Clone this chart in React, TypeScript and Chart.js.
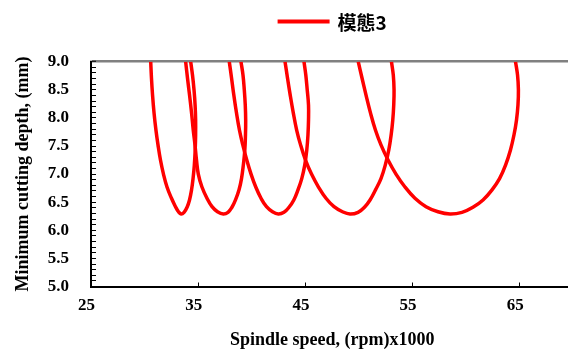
import React, { useEffect, useRef } from "react";
import { Chart, registerables } from "chart.js";

Chart.register(...registerables);

const seriesLabel = "模態3";
const xAxisTitle = "Spindle speed, (rpm)x1000";
const yAxisTitle = "Minimum cutting depth, (mm)";
const xTickValues = [25, 35, 45, 55, 65];
const xMin = 25;
const xMax = 70;
const yMin = 5;
const yMax = 9;

// Each lobe is traced from its top-left end, through its minimum, to its top-right end.
const lobe1Speed = [30.57, 30.64, 30.74, 30.88, 31.06, 31.25, 31.48, 31.76, 32.09, 32.51, 32.88, 33.16, 33.4, 33.68, 33.96, 34.19, 34.38, 34.52, 34.64, 34.72, 34.76, 34.76, 34.71, 34.61, 34.47, 34.3];
const lobe1Depth = [9.0, 8.71, 8.41, 8.09, 7.78, 7.52, 7.25, 7.0, 6.77, 6.57, 6.42, 6.33, 6.29, 6.32, 6.41, 6.54, 6.72, 6.92, 7.16, 7.43, 7.7, 7.96, 8.23, 8.5, 8.76, 9.0];

const lobe2Speed = [33.83, 34.0, 34.19, 34.38, 34.54, 34.7, 34.84, 35.01, 35.35, 35.82, 36.29, 36.8, 37.34, 37.78, 38.15, 38.48, 38.81, 39.04, 39.21, 39.35, 39.41, 39.43, 39.39, 39.3, 39.18, 38.99];
const lobe2Depth = [9.0, 8.71, 8.41, 8.09, 7.78, 7.52, 7.25, 7.0, 6.77, 6.57, 6.42, 6.33, 6.29, 6.32, 6.41, 6.54, 6.72, 6.92, 7.16, 7.43, 7.7, 7.96, 8.23, 8.5, 8.76, 9.0];

const lobe3Speed = [37.9, 38.11, 38.32, 38.57, 38.85, 39.16, 39.53, 39.93, 40.37, 40.86, 41.37, 41.93, 42.47, 43.0, 43.47, 43.92, 44.31, 44.66, 44.94, 45.13, 45.24, 45.29, 45.29, 45.17, 45.04, 44.87];
const lobe3Depth = [9.0, 8.71, 8.41, 8.09, 7.78, 7.52, 7.25, 7.0, 6.77, 6.57, 6.42, 6.33, 6.29, 6.32, 6.41, 6.54, 6.72, 6.92, 7.16, 7.43, 7.7, 7.96, 8.23, 8.5, 8.76, 9.0];

const lobe4Speed = [43.1, 43.33, 43.58, 43.87, 44.19, 44.55, 45.01, 45.57, 46.22, 46.92, 47.67, 48.46, 49.16, 49.91, 50.51, 51.03, 51.54, 52.05, 52.45, 52.78, 53.0, 53.15, 53.24, 53.27, 53.2, 53.03];
const lobe4Depth = [9.0, 8.71, 8.41, 8.09, 7.78, 7.52, 7.25, 7.0, 6.77, 6.57, 6.42, 6.33, 6.29, 6.32, 6.41, 6.54, 6.72, 6.92, 7.16, 7.43, 7.7, 7.96, 8.23, 8.5, 8.76, 9.0];

const lobe5Speed = [49.93, 50.28, 50.65, 51.07, 51.54, 52.05, 52.71, 53.45, 54.29, 55.22, 56.25, 57.37, 58.49, 59.61, 60.63, 61.57, 62.41, 63.11, 63.67, 64.13, 64.46, 64.69, 64.83, 64.87, 64.79, 64.6];
const lobe5Depth = [9.0, 8.71, 8.41, 8.09, 7.78, 7.52, 7.25, 7.0, 6.77, 6.57, 6.42, 6.33, 6.29, 6.32, 6.41, 6.54, 6.72, 6.92, 7.16, 7.43, 7.7, 7.96, 8.23, 8.5, 8.76, 9.0];

const lobes = [
  [lobe1Speed, lobe1Depth],
  [lobe2Speed, lobe2Depth],
  [lobe3Speed, lobe3Depth],
  [lobe4Speed, lobe4Depth],
  [lobe5Speed, lobe5Depth],
];

const RED = "#ff0000";
const SERIF = '"Liberation Serif", "Times New Roman", serif';

const legendPlugin = {
  id: "centeredLegend",
  afterDraw(chart: any) {
    const ds = chart.data.datasets[0];
    const ctx = chart.ctx;
    const area = chart.chartArea;
    ctx.save();
    ctx.font = 'bold 19px "Noto Sans CJK TC", sans-serif';
    const lineLen = 52;
    const gap = 8;
    const textW = ctx.measureText(ds.label).width;
    const total = lineLen + gap + textW;
    const cx = (area.left + area.right) / 2;
    const start = cx - total / 2;
    const y = 21.5;
    ctx.strokeStyle = ds.borderColor;
    ctx.lineWidth = 4;
    ctx.beginPath();
    ctx.moveTo(start, y);
    ctx.lineTo(start + lineLen, y);
    ctx.stroke();
    ctx.fillStyle = "#000";
    ctx.textAlign = "left";
    ctx.textBaseline = "middle";
    ctx.fillText(ds.label, start + lineLen + gap, y + 1);
    ctx.restore();
  },
};

export default function App() {
  const canvasRef = useRef<HTMLCanvasElement | null>(null);

  useEffect(() => {
    const canvas = canvasRef.current;
    if (!canvas) return;
    const datasets = lobes.map(([xs, ys]) => ({
      label: seriesLabel,
      data: xs.map((x, j) => ({ x, y: ys[j] })),
      showLine: true,
      borderColor: RED,
      backgroundColor: RED,
      borderWidth: 3.5,
      pointRadius: 0,
      pointHoverRadius: 0,
      tension: 0.4,
      fill: false,
    }));

    const chart = new Chart(canvas, {
      type: "scatter",
      data: { datasets },
      plugins: [legendPlugin],
      options: {
        animation: false,
        responsive: false,
        events: [],
        layout: { padding: { top: 61.7, left: 0, right: 8.6, bottom: 0 } },
        plugins: {
          legend: { display: false },
          tooltip: { enabled: false },
        },
        scales: {
          x: {
            type: "linear",
            min: xMin,
            max: xMax,
            afterBuildTicks: (scale: any) => {
              scale.ticks = xTickValues.map((v) => ({ value: v }));
            },
            afterFit: (scale: any) => {
              scale.height = 64.5;
            },
            border: { display: true, color: "#000", width: 2 },
            grid: {
              drawOnChartArea: false,
              drawTicks: true,
              tickLength: -4,
              tickColor: "#000",
              tickWidth: 1,
            },
            ticks: {
              padding: 13.4,
              labelOffset: -4.5,
              color: "#000",
              maxRotation: 0,
              autoSkip: false,
              font: { family: SERIF, size: 17, weight: "bold" },
              callback: (v: any) => String(v),
            },
            title: {
              display: true,
              text: xAxisTitle,
              color: "#000",
              font: { family: SERIF, size: 18, weight: "bold" },
              padding: { top: 0, bottom: 0 },
            },
          },
          y: {
            type: "linear",
            min: yMin,
            max: yMax,
            afterFit: (scale: any) => {
              scale.width = 91;
            },
            border: { display: true, color: "#000", width: 2 },
            grid: {
              drawOnChartArea: true,
              drawTicks: true,
              tickLength: -5,
              tickColor: "#000",
              tickWidth: 1,
              color: (c: any) => (c.tick && Math.abs(c.tick.value - yMax) < 1e-6 ? "#808080" : "rgba(0,0,0,0)"),
              lineWidth: (c: any) => (c.tick && Math.abs(c.tick.value - yMax) < 1e-6 ? 2.5 : 1),
            },
            ticks: {
              stepSize: 0.1,
              maxTicksLimit: 100,
              autoSkip: false,
              padding: 27,
              color: "#000",
              font: { family: SERIF, size: 17, weight: "bold" },
              callback: (v: any) => {
                const n = Number(v);
                return Math.abs(n * 2 - Math.round(n * 2)) < 1e-6 ? n.toFixed(1) : "";
              },
            },
            title: {
              display: true,
              text: yAxisTitle,
              color: "#000",
              font: { family: SERIF, size: 18, weight: "bold" },
              padding: { top: 12.5, bottom: 0 },
            },
          },
        },
      } as any,
    });

    return () => {
      chart.destroy();
    };
  }, []);

  return (
    <div style={{ position: "fixed", left: 0, top: 0, width: 582, height: 351, background: "#fff" }}>
      <canvas ref={canvasRef} width={582} height={351} style={{ display: "block" }} />
    </div>
  );
}
